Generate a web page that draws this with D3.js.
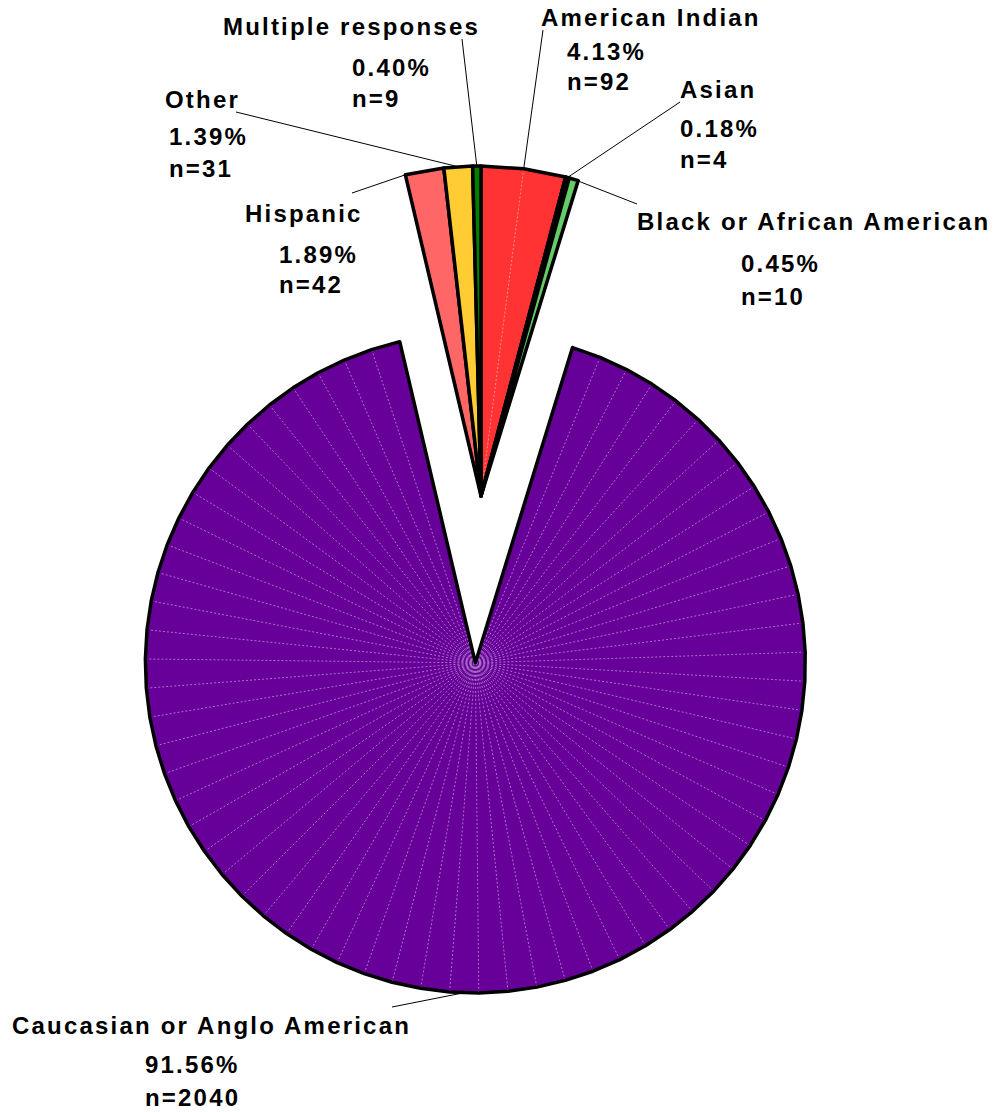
<!DOCTYPE html>
<html>
<head>
<meta charset="utf-8">
<script src="https://cdn.jsdelivr.net/npm/d3@7"></script>
<style>
  body { margin: 0; background: #fff; }
  text { font-family: "Liberation Sans", Arial, sans-serif; font-weight: bold; font-size: 24px; fill: #000; letter-spacing: 2.2px; }
</style>
</head>
<body>
<div id="chart"></div>
<script>
// slice order is clockwise from 12 o'clock
var categories = ["American Indian", "Asian", "Black or African American",
    "Caucasian or Anglo American", "Hispanic", "Other", "Multiple responses"];
var counts = [92, 4, 10, 2040, 42, 31, 9];
var colors = ["#ff3333", "#333399", "#66cc66", "#660099", "#ff6666", "#ffcc33", "#008000"];

// hand placed labels (as in the original), leader start point, anchor on slice
var labelPos = [
    {tx: 541, ty: 26,   vx: 567, vy: [60, 90],    lx: 543, ly: 30,   t: 0.5},
    {tx: 680, ty: 98,   vx: 680, vy: [137, 168],  lx: 680, ly: 102,  t: 0.5},
    {tx: 637, ty: 230,  vx: 741, vy: [272, 305],  lx: 637, ly: 204,  t: 0.5},
    {tx: 12,  ty: 1034, vx: 145, vy: [1073, 1106], lx: 392, ly: 1007, t: 0.5},
    {tx: 245, ty: 222,  vx: 279, vy: [263, 293],  lx: 352, ly: 193,  t: 0},
    {tx: 165, ty: 108,  vx: 169, vy: [145, 177],  lx: 236, ly: 112,  t: 0.5},
    {tx: 223, ty: 35,   vx: 352, vy: [76, 107],   lx: 462, ly: 39,   t: 0.5}
];
var explode = [0, 0, 0, 167, 0, 0, 0];

var width = 995, height = 1112,
    cx = 481, cy = 496, radius = 330,
    step = 5 * Math.PI / 180;

var total = d3.sum(counts);
var fmt = d3.format(".2f");

var svg = d3.select("#chart").append("svg")
    .attr("width", width)
    .attr("height", height);

var arcs = d3.pie().sort(null).value(function(d) { return d; })(counts);

function onCircle(a, r) { return [r * Math.sin(a), -r * Math.cos(a)]; }

var line = d3.line();

// draw the big slice first, then the small ones on top
var order = [3, 0, 1, 2, 4, 5, 6];

order.forEach(function(i) {
    var d = arcs[i],
        span = d.endAngle - d.startAngle,
        mid = (d.startAngle + d.endAngle) / 2,
        n = Math.max(1, Math.floor(span / step)),
        off = onCircle(mid, explode[i]);

    var pts = [[0, 0]];
    for (var k = 0; k <= n; k++) pts.push(onCircle(d.startAngle + k * span / n, radius));

    var g = svg.append("g")
        .attr("transform", "translate(" + (cx + off[0]) + "," + (cy + off[1]) + ")");

    g.append("path")
        .attr("d", line(pts) + "Z")
        .attr("fill", colors[i]);

    // faint seams between the polygon segments
    var seam = d3.interpolateRgb(colors[i], "#fff")(0.45);
    for (var j = 1; j < n; j++) {
        g.append("line")
            .attr("x1", 0).attr("y1", 0)
            .attr("x2", pts[j + 1][0]).attr("y2", pts[j + 1][1])
            .attr("stroke", seam)
            .attr("stroke-width", 1)
            .attr("stroke-dasharray", "2,2");
    }

    g.append("path")
        .attr("d", line(pts) + "Z")
        .attr("fill", "none")
        .attr("stroke", "#000")
        .attr("stroke-width", 3.5)
        .attr("stroke-linejoin", "round");
});

// leader lines and labels
categories.forEach(function(name, i) {
    var d = arcs[i], p = labelPos[i],
        mid = (d.startAngle + d.endAngle) / 2,
        a = d.startAngle + p.t * (d.endAngle - d.startAngle),
        off = onCircle(mid, explode[i]),
        end = onCircle(a, radius);

    svg.append("line")
        .attr("x1", p.lx).attr("y1", p.ly)
        .attr("x2", cx + off[0] + end[0]).attr("y2", cy + off[1] + end[1])
        .attr("stroke", "#000")
        .attr("stroke-width", 1);

    svg.append("text").attr("x", p.tx).attr("y", p.ty).text(name);
    svg.append("text").attr("x", p.vx).attr("y", p.vy[0])
        .text(fmt(counts[i] / total * 100) + "%");
    svg.append("text").attr("x", p.vx).attr("y", p.vy[1])
        .text("n=" + counts[i]);
});
</script>
</body>
</html>
